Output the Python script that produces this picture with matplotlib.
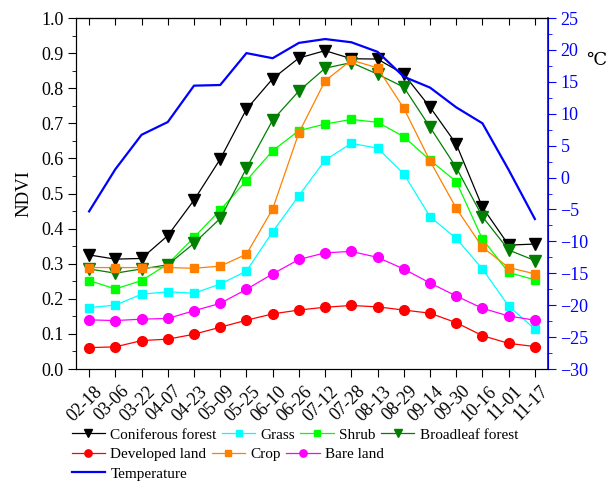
import matplotlib
matplotlib.use('Agg')
import matplotlib.pyplot as plt
import matplotlib.transforms as mtransforms
from matplotlib.ticker import MultipleLocator

plt.rcParams['font.family'] = ['Liberation Serif', 'DejaVu Serif']
size = 13
leg_size = 11

dates = ['02-18', '03-06', '03-22', '04-07', '04-23', '05-09', '05-25', '06-10', '06-26',
         '07-12', '07-28', '08-13', '08-29', '09-14', '09-30', '10-16', '11-01', '11-17']

coniferous = [0.325, 0.313, 0.315, 0.380, 0.481, 0.598, 0.740, 0.827, 0.886,
              0.907, 0.884, 0.883, 0.840, 0.746, 0.641, 0.461, 0.353, 0.356]
grass = [0.175, 0.182, 0.213, 0.220, 0.216, 0.242, 0.279, 0.391, 0.494,
         0.595, 0.643, 0.629, 0.556, 0.434, 0.372, 0.285, 0.179, 0.114]
shrub = [0.252, 0.228, 0.252, 0.299, 0.375, 0.453, 0.537, 0.622, 0.679,
         0.698, 0.711, 0.703, 0.662, 0.595, 0.534, 0.370, 0.275, 0.254]
broadleaf = [0.285, 0.273, 0.285, 0.297, 0.358, 0.429, 0.572, 0.709, 0.792,
             0.857, 0.873, 0.840, 0.803, 0.689, 0.574, 0.434, 0.339, 0.309]
developed = [0.061, 0.063, 0.081, 0.085, 0.099, 0.119, 0.139, 0.157, 0.168,
             0.176, 0.181, 0.177, 0.168, 0.159, 0.132, 0.095, 0.073, 0.064]
crop = [0.289, 0.289, 0.289, 0.289, 0.287, 0.293, 0.327, 0.456, 0.673,
        0.821, 0.880, 0.858, 0.743, 0.593, 0.458, 0.347, 0.289, 0.271]
bare = [0.140, 0.138, 0.142, 0.144, 0.166, 0.187, 0.227, 0.271, 0.312,
        0.331, 0.335, 0.318, 0.285, 0.245, 0.208, 0.173, 0.151, 0.139]
temperature = [-5.3, 1.3, 6.7, 8.7, 14.4, 14.5, 19.5, 18.7, 21.1,
               21.7, 21.2, 19.7, 15.8, 14.1, 11.0, 8.5, 1.2, -6.5]

x = list(range(len(dates)))

fig = plt.figure(figsize=(6.06, 4.84), dpi=100)
ax = fig.add_axes([0.1254, 0.2376, 0.7789, 0.7252])

lw = 0.9
l_con, = ax.plot(x, coniferous, color='black', marker='v', ms=8, lw=lw, label='Coniferous forest')
l_gra, = ax.plot(x, grass, color='#00FFFF', marker='s', ms=6, lw=lw, label='Grass')
l_shr, = ax.plot(x, shrub, color='#00FF00', marker='s', ms=6, lw=lw, label='Shrub')
l_bro, = ax.plot(x, broadleaf, color='#007F00', marker='v', ms=8, lw=lw, label='Broadleaf forest')
l_dev, = ax.plot(x, developed, color='#FF0000', marker='o', ms=7, lw=lw, label='Developed land')
l_cro, = ax.plot(x, crop, color='#FF8000', marker='s', ms=6, lw=lw, label='Crop')
l_bar, = ax.plot(x, bare, color='#FF00FF', marker='o', ms=7, lw=lw, label='Bare land')

ax.set_xlim(-0.5, len(dates) - 0.5)
ax.set_ylim(0, 1.0)
ax.yaxis.set_major_locator(MultipleLocator(0.1))
ax.yaxis.set_minor_locator(MultipleLocator(0.05))
ax.set_yticks([i / 10 for i in range(11)])
ax.set_yticklabels([f'{i / 10:.1f}' for i in range(11)], fontsize=size)
ax.set_xticks(x)
ax.set_xticklabels(dates, rotation=45, ha='right', va='center', rotation_mode='anchor', fontsize=size)
ax.tick_params(axis='x', which='major', direction='out', length=5.5, pad=3)
ax.tick_params(axis='y', which='major', direction='out', length=5.5)
ax.tick_params(axis='y', which='minor', direction='out', length=3)
ax.set_ylabel('NDVI', fontsize=size + 0.5, labelpad=6)

# shift rotated date labels like the original (right end sits right of the tick)
offset = mtransforms.ScaledTranslation(0.11, -0.08, fig.dpi_scale_trans)
for lab in ax.get_xticklabels():
    lab.set_transform(lab.get_transform() + offset)

top = ax.secondary_xaxis('top')
top.set_xticks(x)
top.tick_params(direction='in', length=5, labeltop=False)

ax2 = ax.twinx()
l_tem, = ax2.plot(x, temperature, color='#0000FF', lw=1.6, label='Temperature')
ax2.set_ylim(-30, 25)
ax2.yaxis.set_major_locator(MultipleLocator(5))
ax2.yaxis.set_minor_locator(MultipleLocator(2.5))
ax2.tick_params(axis='y', which='major', direction='out', length=5.5, colors='#0000FF', labelsize=size)
ax2.tick_params(axis='y', which='minor', direction='out', length=3, colors='#0000FF')
ax2.spines['right'].set_color('#0000FF')
ax2.spines['right'].set_linewidth(1.2)
fig.text(0.984, 0.876, '℃', fontsize=size, ha='center', va='center')

leg_kw = dict(frameon=False, fontsize=leg_size, handlelength=2.2, handletextpad=0.35,
              columnspacing=0.33, borderpad=0, borderaxespad=0, markerscale=0.75,
              loc='upper left')
fig.legend([l_con, l_gra, l_shr, l_bro], ['Coniferous forest', 'Grass', 'Shrub', 'Broadleaf forest'],
           ncol=4, bbox_to_anchor=(0.118, 0.116), **leg_kw)
fig.legend([l_dev, l_cro, l_bar], ['Developed land', 'Crop', 'Bare land'],
           ncol=3, bbox_to_anchor=(0.118, 0.075), **leg_kw)
fig.legend([l_tem], ['Temperature'], ncol=1, bbox_to_anchor=(0.118, 0.035), **leg_kw)

fig.savefig('out.png', dpi=100)
